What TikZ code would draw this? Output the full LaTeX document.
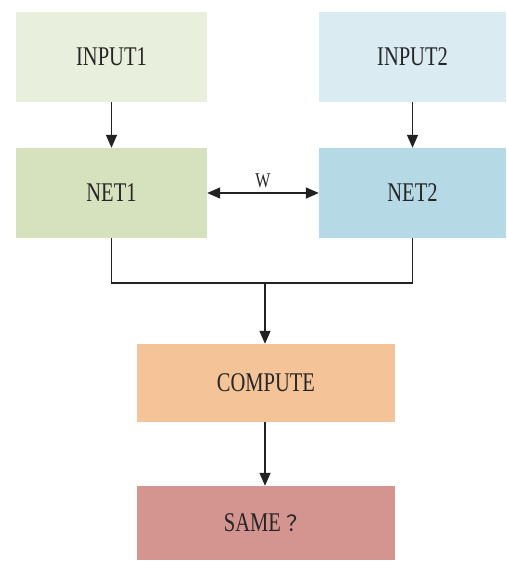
\documentclass[tikz,border=0pt]{standalone}
\usepackage{fontspec}
\setmainfont[FakeStretch=0.76]{Liberation Serif}
\newfontfamily\cjk{Noto Sans CJK SC}
\usetikzlibrary{arrows.meta}
\definecolor{inAcol}{HTML}{E9EFDD}
\definecolor{netAcol}{HTML}{D6E1BD}
\definecolor{inBcol}{HTML}{DAEBF1}
\definecolor{netBcol}{HTML}{B5D9E5}
\definecolor{compcol}{HTML}{F4C398}
\definecolor{samecol}{HTML}{D4948F}
\definecolor{linecol}{HTML}{222222}
\tikzset{
  box/.style={rectangle, draw=none, inner sep=0pt, font=\fontsize{27}{30}\selectfont, text=black!85},
  tip/.tip={Triangle[width=11pt,length=13pt]},
  conn/.style={draw=linecol, line width=1.4pt, -tip},
}
\begin{document}
\begin{tikzpicture}[x=1pt, y=-1pt]
  \useasboundingbox (0,0) rectangle (506,561);
  % input and network blocks
  \node[box, fill=inAcol, minimum width=191pt, minimum height=90pt] (in1) at (111.5,57) {INPUT1};
  \node[box, fill=inBcol, minimum width=187pt, minimum height=90pt] (in2) at (412.5,57) {INPUT2};
  \node[box, fill=netAcol, minimum width=191pt, minimum height=90pt] (net1) at (111.5,193) {NET1};
  \node[box, fill=netBcol, minimum width=187pt, minimum height=90pt] (net2) at (412.5,193) {NET2};
  \node[box, fill=compcol, minimum width=258pt, minimum height=78pt] (comp) at (266,383) {COMPUTE};
  \node[box, fill=samecol, minimum width=258pt, minimum height=74pt] (same) at (266,523) {SAME\hspace{5pt}{\cjk\fontsize{22}{26}\selectfont ？}};
  \coordinate (j) at (265,283);
  % connectors
  \draw[conn] (in1) -- (net1);
  \draw[conn] (in2) -- (net2);
  \draw[conn, tip-tip] (net1) -- node[above=1pt, font=\fontsize{21}{24}\selectfont, text=black!85] {W} (net2);
  \draw[draw=linecol, line width=1.4pt] (net1.south) |- (j) -| (net2.south);
  \draw[conn] (j) -- (comp.north -| j);
  \draw[conn] (comp.south -| j) -- (same.north -| j);
\end{tikzpicture}
\end{document}
